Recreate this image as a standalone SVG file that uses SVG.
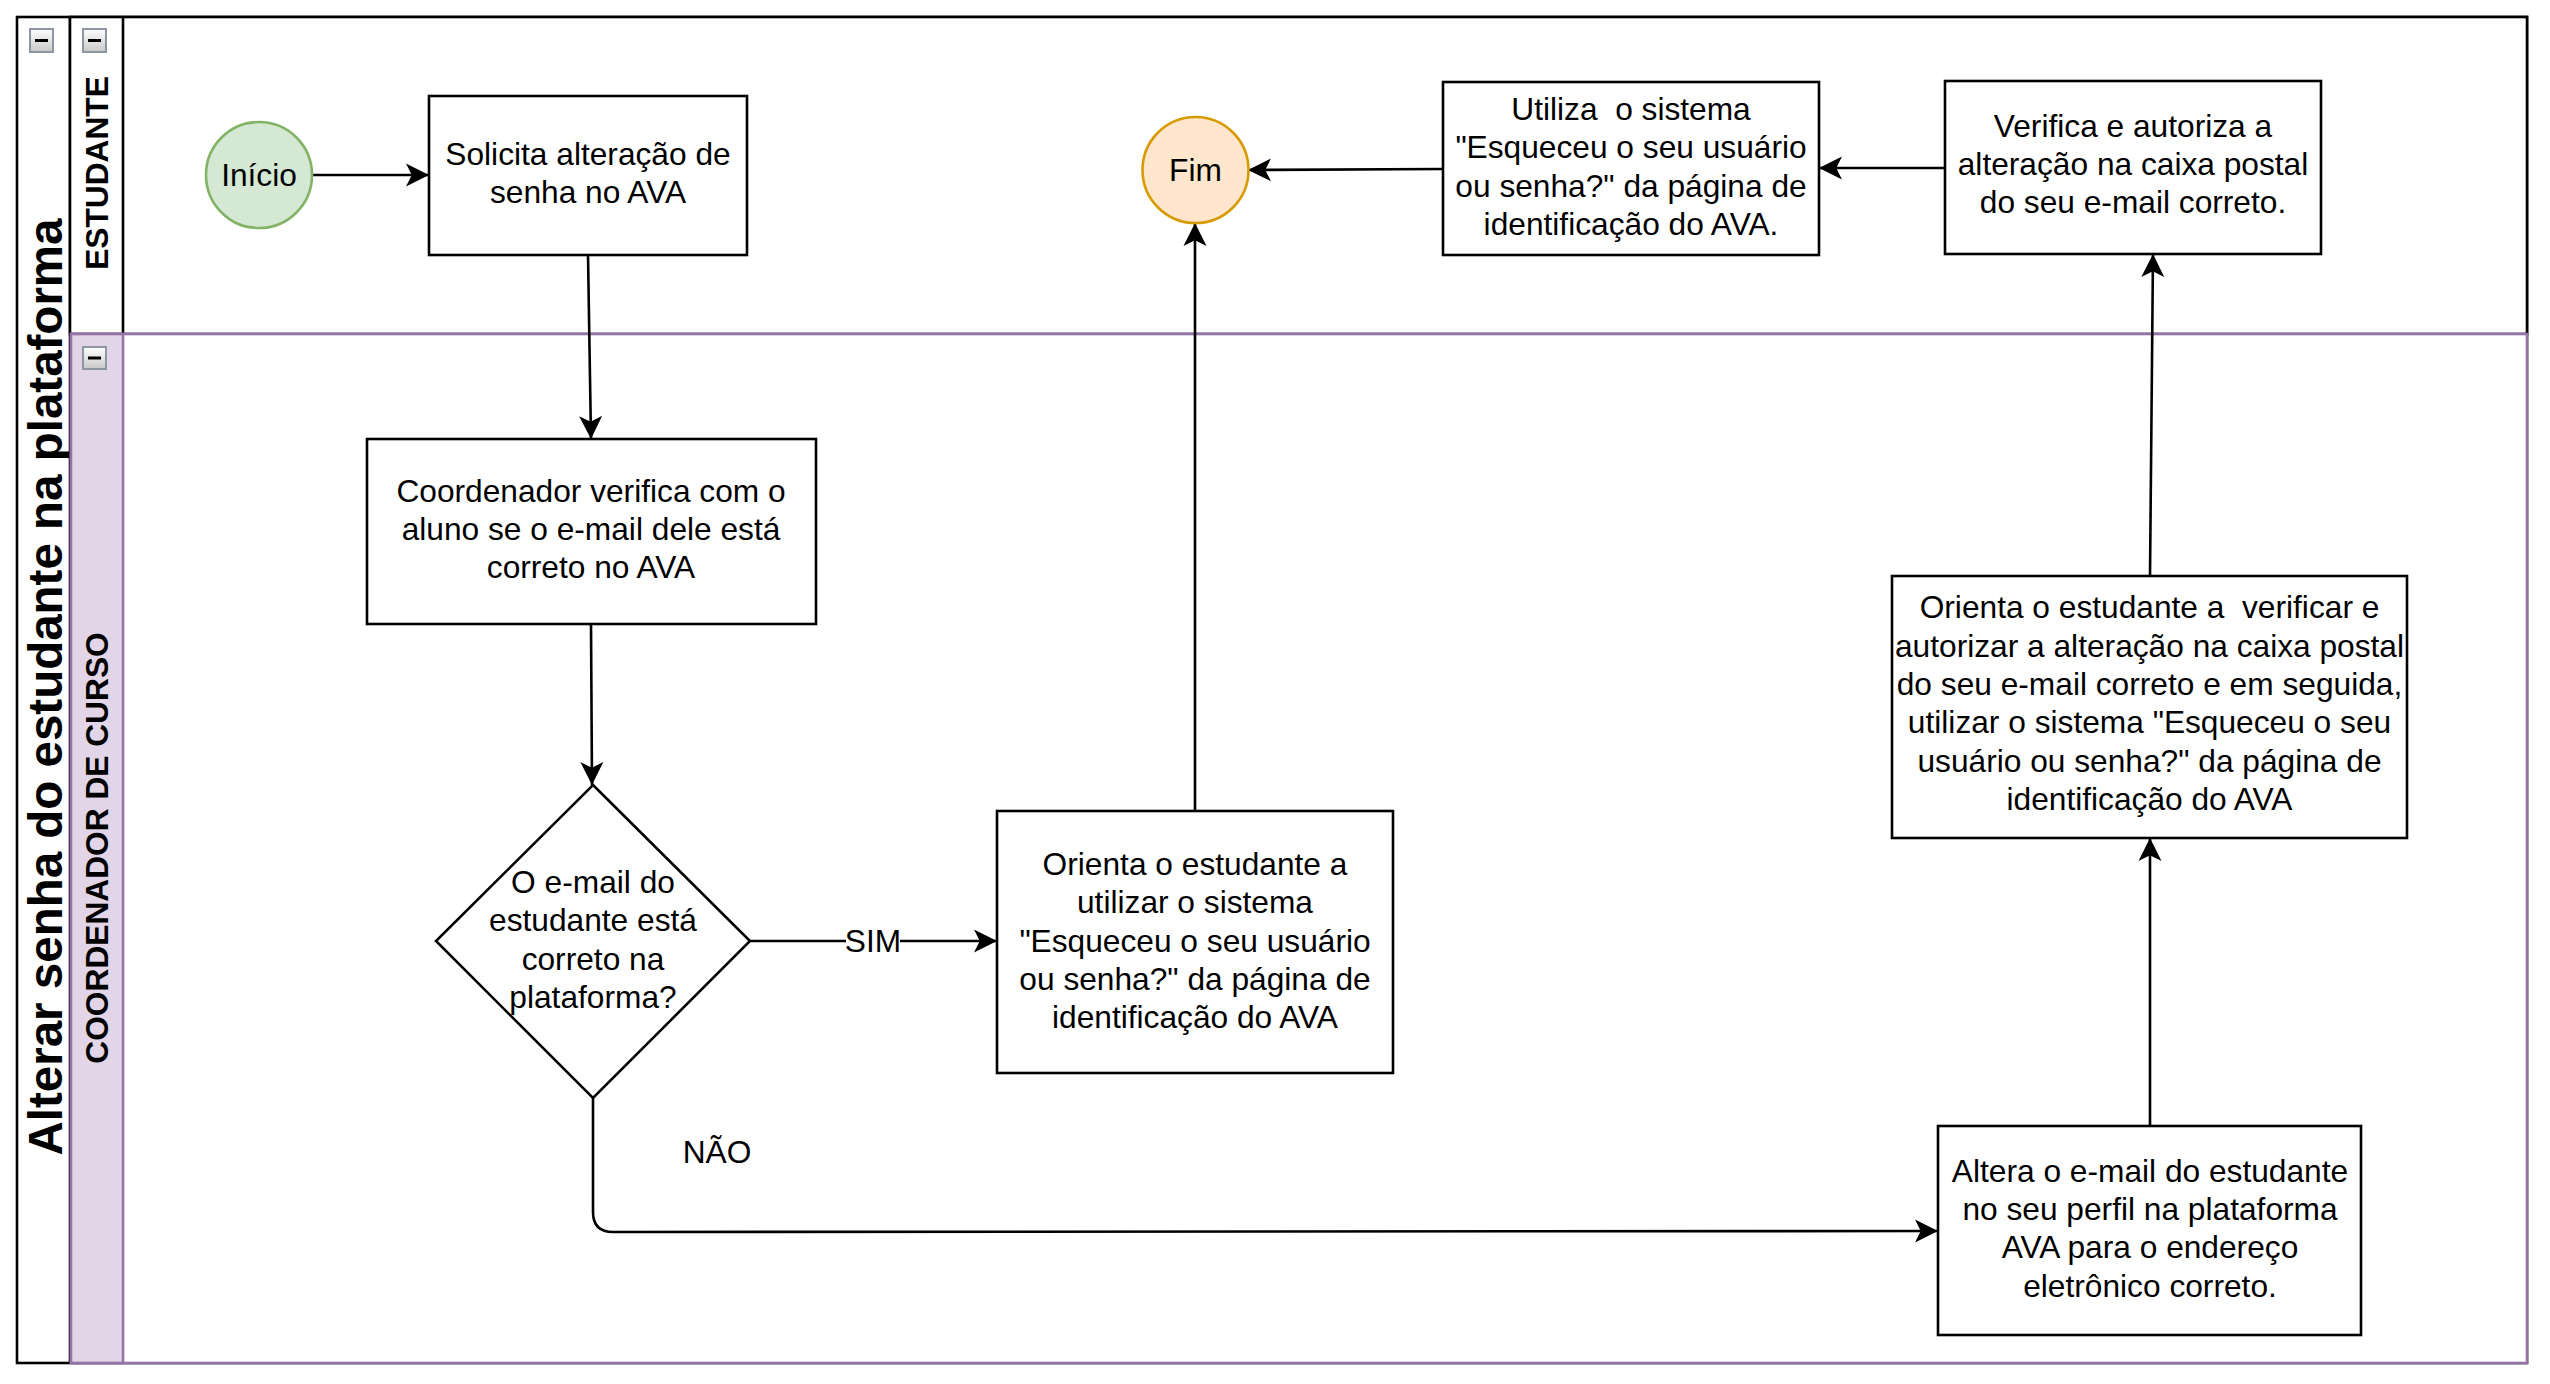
<svg xmlns="http://www.w3.org/2000/svg" width="2550" height="1384" viewBox="0 0 2550 1384">
<defs>
<linearGradient id="btn" x1="0" y1="0" x2="0" y2="1">
<stop offset="0" stop-color="#ffffff"/>
<stop offset="1" stop-color="#c8c8c8"/>
</linearGradient>
<marker id="arr" markerUnits="userSpaceOnUse" markerWidth="24" markerHeight="24" refX="23" refY="11.5" orient="auto" viewBox="0 0 24 23">
<path d="M23,11.5 L0,0 L5.75,11.5 L0,23 Z" fill="#000"/>
</marker>
</defs>
<style>
text{font-family:"Liberation Sans",Arial,Helvetica,sans-serif;font-size:31.7px;fill:#000;text-anchor:middle}
.b{font-weight:bold}
.title{font-size:47.5px;font-weight:bold}
.node{fill:#fff;stroke:#000;stroke-width:2.6}
.edge{fill:none;stroke:#000;stroke-width:2.6;marker-end:url(#arr)}
.btn{fill:url(#btn);stroke:#8e96a4;stroke-width:2}
.dash{stroke:#000;stroke-width:3}
</style>
<rect width="2550" height="1384" fill="#fff"/>

<g id="pool">
<rect x="17" y="17" width="2510" height="1346" fill="#fff" stroke="#000" stroke-width="2.6"/>
<line x1="70" y1="17" x2="70" y2="1363" stroke="#000" stroke-width="2.6"/>
<text class="title" transform="translate(62,687) rotate(-90)">Alterar senha do estudante na plataforma</text>
<rect class="btn" x="30" y="29" width="23" height="23"/>
<line class="dash" x1="35" y1="40.5" x2="48" y2="40.5"/>
</g>

<g id="lane-estudante">
<rect x="70" y="17" width="2457" height="317" fill="#fff" stroke="#000" stroke-width="2.6"/>
<line x1="123" y1="17" x2="123" y2="334" stroke="#000" stroke-width="2.6"/>
<text class="b" transform="translate(108,173) rotate(-90)">ESTUDANTE</text>
<rect class="btn" x="83" y="29" width="23" height="23"/>
<line class="dash" x1="88" y1="40.5" x2="101" y2="40.5"/>
</g>

<g id="lane-coordenador">
<rect x="71" y="334" width="2456" height="1029" fill="#fff" stroke="#9673a6" stroke-width="2.6"/>
<rect x="71" y="334" width="52" height="1029" fill="#e1d5e7" stroke="#9673a6" stroke-width="2.6"/>
<text class="b" transform="translate(108,848) rotate(-90)">COORDENADOR DE CURSO</text>
<rect class="btn" x="83" y="347" width="23" height="22"/>
<line class="dash" x1="88" y1="358" x2="101" y2="358"/>
</g>

<g id="connectors">
<path class="edge" d="M312,175 L429,175"/>
<path class="edge" d="M588,255 L591,439"/>
<path class="edge" d="M591,624 L592,785"/>
<path class="edge" d="M750,941 L997,941"/>
<rect x="846" y="926" width="54" height="32" fill="#fff"/>
<text x="873" y="952">SIM</text>
<path class="edge" d="M593,1098 L593,1212 Q593,1232 613,1232 L1938,1231"/>
<text x="717" y="1163">NÃO</text>
<path class="edge" d="M1195,811 L1195,223"/>
<path class="edge" d="M1443,169 L1248,170"/>
<path class="edge" d="M1945,168 L1819,168"/>
<path class="edge" d="M2150,576 L2153,254"/>
<path class="edge" d="M2150,1126 L2150,838"/>
</g>

<g id="inicio">
<circle cx="259" cy="175" r="53" fill="#d5e8d4" stroke="#82b366" stroke-width="2.6"/>
<text x="259" y="186">Início</text>
</g>

<g id="solicita">
<rect class="node" x="429" y="96" width="318" height="159"/>
<text x="588" y="165">Solicita alteração de</text>
<text x="588" y="203">senha no AVA</text>
</g>

<g id="coordenador-verifica">
<rect class="node" x="367" y="439" width="449" height="185"/>
<text x="591" y="502">Coordenador verifica com o</text>
<text x="591" y="540">aluno se o e-mail dele está</text>
<text x="591" y="578">correto no AVA</text>
</g>

<g id="decisao">
<path class="node" d="M593,785 L750,941 L593,1098 L436,941 Z"/>
<text x="593" y="893">O e-mail do</text>
<text x="593" y="931">estudante está</text>
<text x="593" y="970">correto na</text>
<text x="593" y="1008">plataforma?</text>
</g>

<g id="orienta-utilizar">
<rect class="node" x="997" y="811" width="396" height="262"/>
<text x="1195" y="875">Orienta o estudante a</text>
<text x="1195" y="913">utilizar o sistema</text>
<text x="1195" y="952">"Esqueceu o seu usuário</text>
<text x="1195" y="990">ou senha?" da página de</text>
<text x="1195" y="1028">identificação do AVA</text>
</g>

<g id="fim">
<circle cx="1195.5" cy="170" r="53" fill="#ffe6cc" stroke="#d79b00" stroke-width="2.6"/>
<text x="1195.5" y="181">Fim</text>
</g>

<g id="utiliza">
<rect class="node" x="1443" y="82" width="376" height="173"/>
<text x="1631" y="120" xml:space="preserve">Utiliza  o sistema</text>
<text x="1631" y="158">"Esqueceu o seu usuário</text>
<text x="1631" y="197">ou senha?" da página de</text>
<text x="1631" y="235">identificação do AVA.</text>
</g>

<g id="verifica">
<rect class="node" x="1945" y="81" width="376" height="173"/>
<text x="2133" y="137">Verifica e autoriza a</text>
<text x="2133" y="175">alteração na caixa postal</text>
<text x="2133" y="213">do seu e-mail correto.</text>
</g>

<g id="orienta-verificar">
<rect class="node" x="1892" y="576" width="515" height="262"/>
<text x="2149.5" y="618" xml:space="preserve">Orienta o estudante a  verificar e</text>
<text x="2149.5" y="657">autorizar a alteração na caixa postal</text>
<text x="2149.5" y="695">do seu e-mail correto e em seguida,</text>
<text x="2149.5" y="733">utilizar o sistema "Esqueceu o seu</text>
<text x="2149.5" y="772">usuário ou senha?" da página de</text>
<text x="2149.5" y="810">identificação do AVA</text>
</g>

<g id="altera">
<rect class="node" x="1938" y="1126" width="423" height="209"/>
<text x="2150" y="1182">Altera o e-mail do estudante</text>
<text x="2150" y="1220">no seu perfil na plataforma</text>
<text x="2150" y="1258">AVA para o endereço</text>
<text x="2150" y="1297">eletrônico correto.</text>
</g>
</svg>
